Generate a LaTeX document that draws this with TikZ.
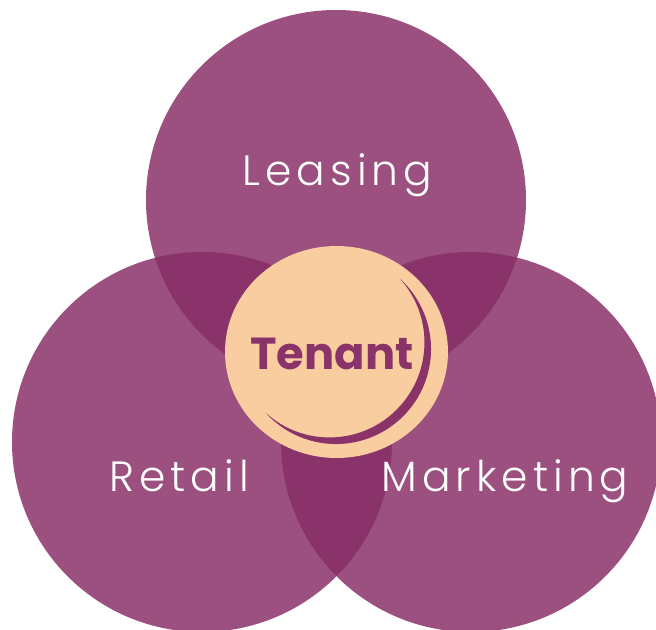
\documentclass[tikz,border=0pt]{standalone}
\usepackage{fontspec}
\setmainfont{Poppins}[UprightFont={* Light}, BoldFont={* Bold}]
\definecolor{venn}{RGB}{135,45,102}
\definecolor{peach}{RGB}{250,205,160}
\definecolor{tenantc}{RGB}{138,51,105}
\begin{document}
\begin{tikzpicture}[x=1bp,y=-1bp,
  vennc/.style={fill=venn, fill opacity=0.83},
  lbl/.style={text=white, font=\fontsize{42.5}{42.5}\selectfont\addfontfeature{LetterSpace=12}, anchor=base, inner sep=0pt}]
\useasboundingbox (0,0) rectangle (656,630);
\fill[white] (0,0) rectangle (656,630);
% three circles
\fill[vennc] (336,200) circle (190bp);
\fill[vennc] (202,442) circle (190bp);
\fill[vennc] (471,442) circle (190bp);
% center
\fill[peach] (336.5,352) ellipse [x radius=111.5bp, y radius=106bp];
% crescent
\coordinate (t1) at (399.85,278.65);
\fill[tenantc] (t1) arc[start angle=47.8, end angle=-137.8, radius=95bp]
  arc[start angle=-132.2, end angle=42.2, radius=95bp] -- cycle;
% labels
\node[lbl] (leasing) at (337.5,186) {Leasing};
\node[lbl] (retail) at (179,491) {Retail};
\node[lbl] (marketing) at (505,491) {Marketing};
\node[font=\fontsize{45}{45}\selectfont\bfseries, text=tenantc, anchor=base, inner sep=0pt] (tenant) at (332,369) {Tenant};
\end{tikzpicture}
\end{document}
